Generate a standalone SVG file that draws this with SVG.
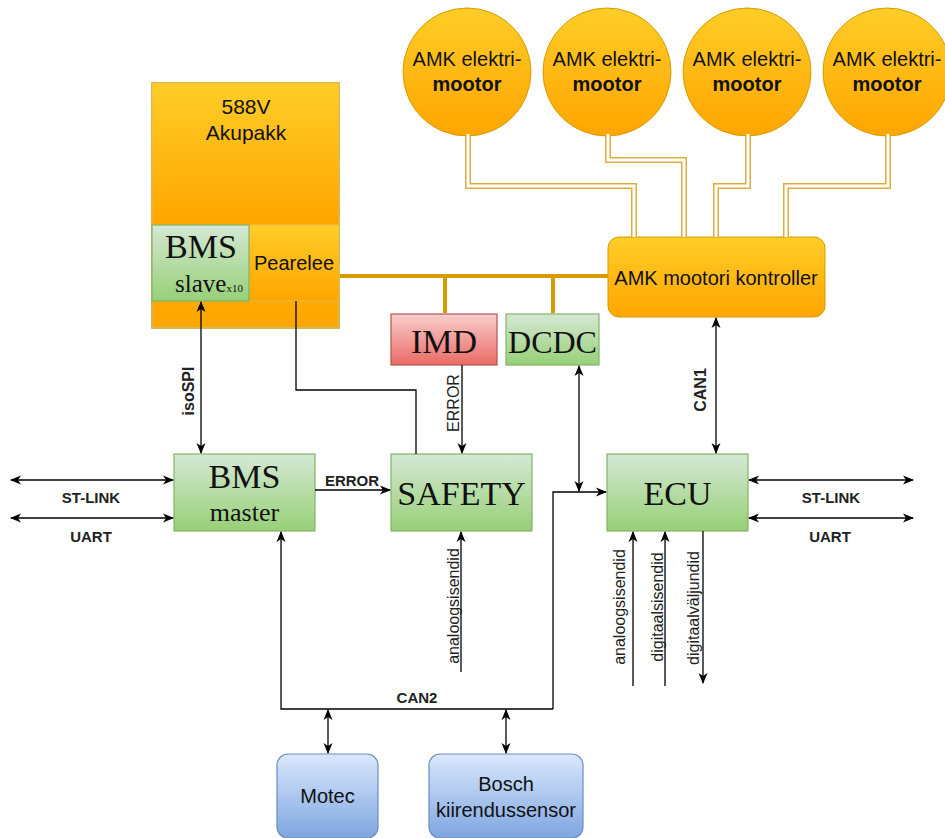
<svg xmlns="http://www.w3.org/2000/svg" width="945" height="838" viewBox="0 0 945 838">
<defs>
<linearGradient id="gO" x1="0" y1="0" x2="0" y2="1"><stop offset="0" stop-color="#ffcd28"/><stop offset="1" stop-color="#ffa500"/></linearGradient>
<linearGradient id="gG" x1="0" y1="0" x2="0" y2="1"><stop offset="0" stop-color="#d5e8d4"/><stop offset="1" stop-color="#97d077"/></linearGradient>
<linearGradient id="gR" x1="0" y1="0" x2="0" y2="1"><stop offset="0" stop-color="#f8cecc"/><stop offset="1" stop-color="#ea6b66"/></linearGradient>
<linearGradient id="gB" x1="0" y1="0" x2="0" y2="1"><stop offset="0" stop-color="#dae8fc"/><stop offset="1" stop-color="#7ea6e0"/></linearGradient>
<marker id="ar" markerWidth="12" markerHeight="12" refX="10" refY="5" orient="auto-start-reverse" markerUnits="userSpaceOnUse" viewBox="0 0 12 10"><path d="M0,0.5 L11,5 L0,9.5 L3,5 z" fill="#000"/></marker>
<style>
.o{fill:url(#gO);stroke:#d79b00;stroke-width:1}
.g{fill:url(#gG);stroke:#82b366;stroke-width:1.2}
.r{fill:url(#gR);stroke:#b85450;stroke-width:1.2}
.b{fill:url(#gB);stroke:#6c8ebf;stroke-width:1.2}
.sans{font-family:"Liberation Sans",Arial,sans-serif;fill:#111}
.serif{font-family:"Liberation Serif","Times New Roman",serif;fill:#111}
.t20{font-size:20px}
.big{font-size:34px}
.lbl{font-family:"Liberation Sans",Arial,sans-serif;font-size:16px;fill:#222}
.bold{font-weight:bold}
.ln{fill:none;stroke:#000;stroke-width:1.3}
.ae{marker-end:url(#ar)}
.ab{marker-start:url(#ar);marker-end:url(#ar)}
.wo{fill:none;stroke:#e0ad3c;stroke-width:6}
.wi{fill:none;stroke:#fff;stroke-width:3}
.bus{fill:none;stroke:#d79b00;stroke-width:4}
</style>
</defs>
<rect width="945" height="838" fill="#fff"/>

<g id="motor1"><circle class="o" cx="467" cy="72" r="64"/><text class="sans t20" x="467" y="66" text-anchor="middle">AMK elektri-</text><text class="sans t20 bold" x="467" y="91" text-anchor="middle">mootor</text></g>
<g id="motor2"><circle class="o" cx="607" cy="72" r="64"/><text class="sans t20" x="607" y="66" text-anchor="middle">AMK elektri-</text><text class="sans t20 bold" x="607" y="91" text-anchor="middle">mootor</text></g>
<g id="motor3"><circle class="o" cx="747" cy="72" r="64"/><text class="sans t20" x="747" y="66" text-anchor="middle">AMK elektri-</text><text class="sans t20 bold" x="747" y="91" text-anchor="middle">mootor</text></g>
<g id="motor4"><circle class="o" cx="887" cy="72" r="64"/><text class="sans t20" x="887" y="66" text-anchor="middle">AMK elektri-</text><text class="sans t20 bold" x="887" y="91" text-anchor="middle">mootor</text></g>

<g id="controller"><rect class="o" x="608" y="237" width="217" height="80" rx="11"/><text class="sans t20" x="716" y="285" text-anchor="middle">AMK mootori kontroller</text></g>

<g id="akupakk">
 <rect x="152" y="83" width="187" height="245" fill="url(#gO)" stroke="#d6b656" stroke-width="2"/>
 <rect x="152" y="83" width="187" height="142" fill="url(#gO)" stroke="#e8b850" stroke-width="0.8"/>
 <text class="sans" x="246" y="114" text-anchor="middle" style="font-size:21px">588V</text>
 <text class="sans" x="246" y="140" text-anchor="middle" style="font-size:21px">Akupakk</text>
</g>
<g id="pearelee"><rect x="249" y="225" width="90" height="76" fill="url(#gO)" stroke="#e8b850" stroke-width="0.8"/><text class="sans t20" x="294" y="270" text-anchor="middle">Pearelee</text></g>
<g id="bms-slave"><rect class="g" x="152" y="225" width="97" height="76"/><text class="serif big" x="201" y="258" text-anchor="middle">BMS</text><text class="serif" x="175" y="292" style="font-size:25px">slave<tspan style="font-size:11px">x10</tspan></text></g>

<g id="imd"><rect class="r" x="391" y="314" width="106" height="51"/><text class="serif big" x="444" y="353" text-anchor="middle">IMD</text></g>
<g id="dcdc"><rect class="g" x="506" y="314" width="93" height="51"/><text class="serif" x="552.5" y="353" text-anchor="middle" style="font-size:32px">DCDC</text></g>

<g id="bms-master"><rect class="g" x="174" y="454" width="141" height="77"/><text class="serif big" x="244.5" y="488" text-anchor="middle">BMS</text><text class="serif" x="244.5" y="521" text-anchor="middle" style="font-size:26px">master</text></g>
<g id="safety"><rect class="g" x="391" y="454" width="141" height="77"/><text class="serif big" x="461.5" y="505" text-anchor="middle">SAFETY</text></g>
<g id="ecu"><rect class="g" x="607" y="454" width="141" height="77"/><text class="serif big" x="677.5" y="505" text-anchor="middle">ECU</text></g>

<g id="motec"><rect class="b" x="277" y="754" width="101" height="84" rx="11"/><text class="sans t20" x="327.5" y="803" text-anchor="middle">Motec</text></g>
<g id="bosch"><rect class="b" x="429" y="754" width="154" height="84" rx="11"/><text class="sans t20" x="506" y="791" text-anchor="middle">Bosch</text><text class="sans t20" x="506" y="817" text-anchor="middle">kiirendussensor</text></g>

<g id="connectors">
 <!-- motor power wires (double lines) -->
 <path class="wo" d="M468,136 V186 H634 V237"/>
 <path class="wo" d="M608,136 V160 H684 V237"/>
 <path class="wo" d="M748,136 V186 H716 V237"/>
 <path class="wo" d="M888,136 V186 H786 V237"/>
 <path class="wi" d="M468,134 V186 H634 V237"/>
 <path class="wi" d="M608,134 V160 H684 V237"/>
 <path class="wi" d="M748,134 V186 H716 V237"/>
 <path class="wi" d="M888,134 V186 H786 V237"/>
 <!-- HV bus -->
 <path class="bus" d="M340,276 H608"/>
 <path class="bus" d="M445,276 V313"/>
 <path class="bus" d="M553,276 V313"/>
 <!-- signal lines -->
 <path class="ln ab" d="M201,302 V453"/>
 <path class="ln" d="M296,301 V390 H416 V454"/>
 <path class="ln ae" d="M462,365 V453"/>
 <path class="ln ae" d="M315,490 H390"/>
 <path class="ln ab" d="M579,366 V491"/>
 <path class="ln ae" d="M553,709 V492 H606"/>
 <path class="ln ae" d="M553,709 H281 V532"/>
 <path class="ln ab" d="M716,318 V453"/>
 <path class="ln ab" d="M11,480 H173"/>
 <path class="ln ab" d="M11,518 H173"/>
 <path class="ln ab" d="M749,480 H913"/>
 <path class="ln ab" d="M749,518 H913"/>
 <path class="ln ae" d="M461,672 V532"/>
 <path class="ln ae" d="M633,686 V532"/>
 <path class="ln ae" d="M665,686 V532"/>
 <path class="ln ae" d="M703,531 V683"/>
 <path class="ln ab" d="M328,710 V753"/>
 <path class="ln ab" d="M506,710 V753"/>
 <!-- labels -->
 <text class="lbl bold" transform="translate(194,391) rotate(-90)" text-anchor="middle">isoSPI</text>
 <text class="lbl" transform="translate(459,403) rotate(-90)" text-anchor="middle">ERROR</text>
 <text class="lbl bold" x="352" y="486" text-anchor="middle" style="font-size:15px">ERROR</text>
 <text class="lbl bold" transform="translate(706,390) rotate(-90)" text-anchor="middle">CAN1</text>
 <text class="lbl" transform="translate(459,606) rotate(-90)" text-anchor="middle">analoogsisendid</text>
 <text class="lbl" transform="translate(625,607) rotate(-90)" text-anchor="middle">analoogsisendid</text>
 <text class="lbl" transform="translate(663,607) rotate(-90)" text-anchor="middle">digitaalsisendid</text>
 <text class="lbl" transform="translate(699,608) rotate(-90)" text-anchor="middle">digitaalväljundid</text>
 <text class="lbl bold" x="91" y="503" text-anchor="middle" style="font-size:15px">ST-LINK</text>
 <text class="lbl bold" x="91" y="542" text-anchor="middle" style="font-size:15px">UART</text>
 <text class="lbl bold" x="831" y="503" text-anchor="middle" style="font-size:15px">ST-LINK</text>
 <text class="lbl bold" x="830" y="542" text-anchor="middle" style="font-size:15px">UART</text>
 <text class="lbl bold" x="417" y="703" text-anchor="middle" style="font-size:15px">CAN2</text>
</g>
</svg>
